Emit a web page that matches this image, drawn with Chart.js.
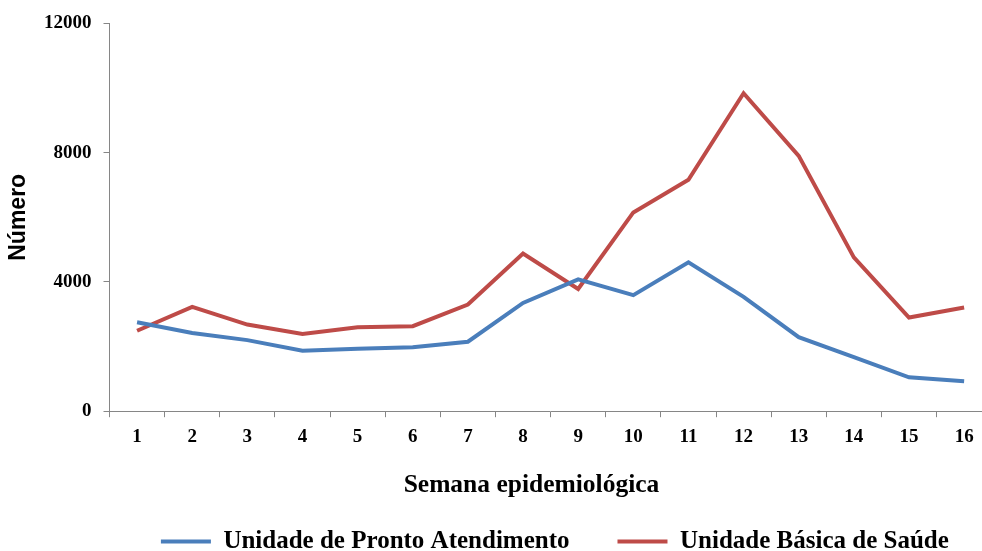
<!DOCTYPE html>
<html>
<head>
<meta charset="utf-8">
<script src="https://cdn.jsdelivr.net/npm/chart.js@4"></script>
<style>
  html, body { margin: 0; padding: 0; background: #fff; overflow: hidden; }
  #wrap { width: 992px; height: 551px; }
</style>
</head>
<body>
<div id="wrap"><canvas id="chart" width="992" height="551"></canvas></div>
<script>
// data
const semanas = ['1', '2', '3', '4', '5', '6', '7', '8', '9', '10', '11', '12', '13', '14', '15', '16'];
const prontoAtendimento = [2750, 2420, 2200, 1870, 1930, 1980, 2150, 3350, 4080, 3590, 4610, 3540, 2290, 1670, 1050, 930];
const basicaSaude = [2490, 3230, 2680, 2390, 2600, 2630, 3300, 4880, 3780, 6150, 7160, 9840, 7900, 4760, 2900, 3210];
const yTicks = [0, 4000, 8000, 12000];

const axisGray = '#868686';
const serifBold = { family: "'Liberation Serif', 'Times New Roman', serif", weight: 'bold' };

// nudge the legend to where the original sits
const legendShift = {
    id: 'legendShift',
    afterLayout(chart) {
        const l = chart.legend;
        if (!l) return;
        l.left += 59; l.right += 59;
        l.top += 13; l.bottom += 13;
    }
};

new Chart(document.getElementById('chart'), {
    type: 'line',
    data: {
        labels: semanas,
        datasets: [{
            label: 'Unidade de Pronto Atendimento',
            data: prontoAtendimento,
            borderColor: '#4A7EBB',
            backgroundColor: '#4A7EBB',
            borderWidth: 4,
            pointRadius: 0,
            pointStyle: 'line',
            tension: 0
        }, {
            label: 'Unidade Básica de Saúde',
            data: basicaSaude,
            borderColor: '#BE4B48',
            backgroundColor: '#BE4B48',
            borderWidth: 4,
            pointRadius: 0,
            pointStyle: 'line',
            tension: 0
        }]
    },
    options: {
        responsive: false,
        animation: false,
        layout: { padding: { top: 22.3, right: 0.3, left: 0, bottom: 0 } },
        scales: {
            x: {
                offset: true,
                grid: { offset: true, drawOnChartArea: false, drawTicks: true, tickLength: 6, color: axisGray },
                border: { color: axisGray, width: 1 },
                ticks: { color: '#000', font: { ...serifBold, size: 19 }, padding: 8, maxRotation: 0, autoSkip: false },
                title: {
                    display: true,
                    // trailing spaces pull the centred title left, as in the original
                    text: 'Semana epidemiológica\u00a0\u00a0\u00a0\u00a0\u00a0\u00a0',
                    color: '#000',
                    font: { ...serifBold, size: 25.5 },
                    padding: { top: 0, bottom: -32.5 }
                },
                afterFit(scale) { scale.height = 56.8; }
            },
            y: {
                min: 0,
                max: 12000,
                afterBuildTicks(scale) { scale.ticks = yTicks.map(v => ({ value: v })); },
                grid: { drawOnChartArea: false, drawTicks: true, tickLength: 6, color: axisGray },
                border: { color: axisGray, width: 1 },
                ticks: {
                    color: '#000',
                    font: { ...serifBold, size: 19 },
                    padding: 12,
                    callback: v => String(v)
                },
                title: {
                    display: true,
                    text: 'Número',
                    color: '#000',
                    font: { family: "'Liberation Sans', Arial, sans-serif", weight: 'bold', size: 23 },
                    padding: { top: 5, bottom: 0 }
                },
                afterFit(scale) { scale.width = 109.5; }
            }
        },
        plugins: {
            legend: {
                position: 'bottom',
                labels: {
                    usePointStyle: true,
                    pointStyleWidth: 50,
                    padding: 48,
                    color: '#000',
                    font: { ...serifBold, size: 25 }
                }
            },
            tooltip: { enabled: false }
        }
    },
    plugins: [legendShift]
});
</script>
</body>
</html>
